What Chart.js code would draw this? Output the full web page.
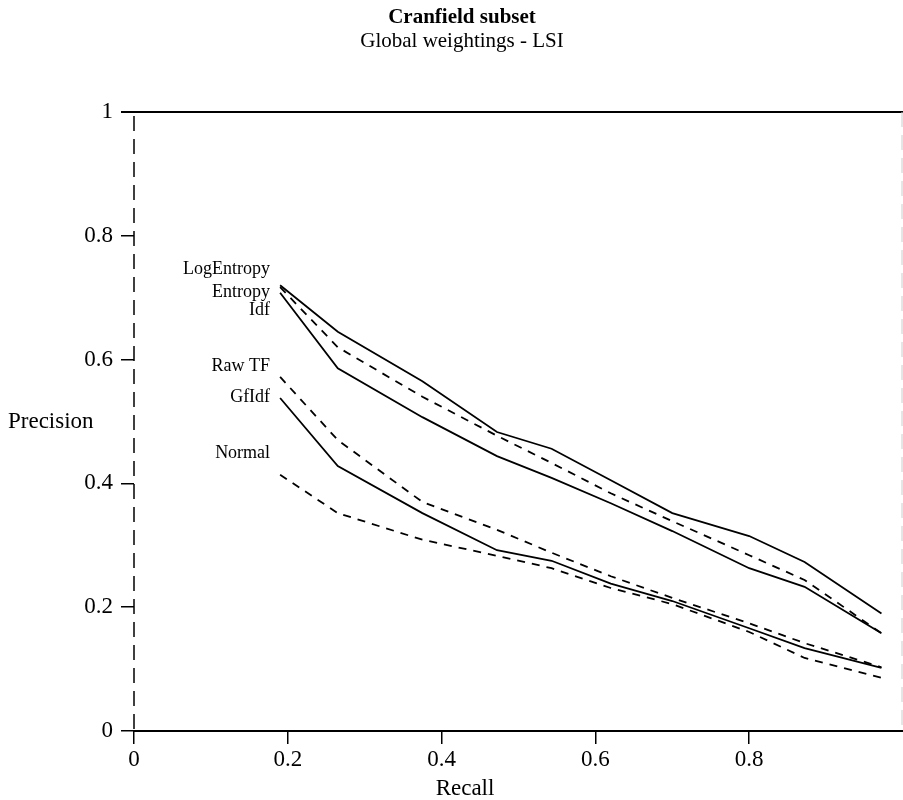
<!DOCTYPE html>
<html>
<head>
<meta charset="utf-8">
<script src="https://cdn.jsdelivr.net/npm/chart.js@4.4.0/dist/chart.umd.min.js"></script>
<style>
  html, body { margin: 0; padding: 0; background: #fff; overflow: hidden; }
  #wrap { width: 903px; height: 800px; }
</style>
</head>
<body>
<div id="wrap"><canvas id="prChart"></canvas></div>
<script>
// recall levels shared by every curve
const recall = [0.19, 0.265, 0.375, 0.472, 0.543, 0.62, 0.70, 0.80, 0.872, 0.972];

// precision per weighting
const logEntropy = [0.72, 0.645, 0.565, 0.483, 0.456, 0.405, 0.352, 0.315, 0.273, 0.19];
const entropy    = [0.717, 0.62, 0.54, 0.477, 0.433, 0.384, 0.339, 0.284, 0.244, 0.158];
const idf        = [0.708, 0.586, 0.507, 0.444, 0.409, 0.368, 0.323, 0.263, 0.233, 0.158];
const rawTf      = [0.572, 0.47, 0.37, 0.325, 0.288, 0.25, 0.215, 0.174, 0.142, 0.103];
const gfIdf      = [0.538, 0.428, 0.352, 0.292, 0.275, 0.238, 0.21, 0.166, 0.134, 0.102];
const normal     = [0.414, 0.352, 0.309, 0.283, 0.263, 0.231, 0.205, 0.16, 0.118, 0.086];

const seriesNames = ["LogEntropy", "Entropy", "Idf", "Raw TF", "GfIdf", "Normal"];
const seriesValues = [logEntropy, entropy, idf, rawTf, gfIdf, normal];
const dashed = [false, true, false, true, false, true];

const yTicks = [0, 0.2, 0.4, 0.6, 0.8, 1];
const xTicks = [0, 0.2, 0.4, 0.6, 0.8];

const chartTitle = "Cranfield subset";
const chartSubtitle = "Global weightings - LSI";

// vertical nudge of each curve label relative to its first point
const labelNudge = [-11, 10, 22, -6, 4, -17];

const serif = '"Liberation Serif", "Times New Roman", serif';

const datasets = seriesNames.map((name, i) => ({
  label: name,
  data: recall.map((r, j) => ({ x: r, y: seriesValues[i][j] })),
  borderColor: "#000",
  borderWidth: 1.8,
  borderDash: dashed[i] ? [8, 7] : [],
  pointRadius: 0,
  tension: 0,
  fill: false
}));

const annotate = {
  id: "annotate",
  afterDraw(chart) {
    const { ctx, chartArea: a, scales: { y } } = chart;
    ctx.save();
    // top frame line
    ctx.strokeStyle = "#000";
    ctx.lineWidth = 2;
    ctx.beginPath();
    ctx.moveTo(a.left - 13, a.top);
    ctx.lineTo(a.right, a.top);
    ctx.stroke();
    // dashed left axis
    ctx.lineWidth = 1.5;
    ctx.setLineDash([15, 8]);
    ctx.beginPath();
    ctx.moveTo(a.left, a.top + 4);
    ctx.lineTo(a.left, a.bottom);
    ctx.stroke();
    // faint right edge
    ctx.strokeStyle = "#ccc";
    ctx.lineWidth = 1;
    ctx.beginPath();
    ctx.moveTo(a.right - 1, a.top);
    ctx.lineTo(a.right - 1, a.bottom);
    ctx.stroke();
    ctx.setLineDash([]);

    ctx.fillStyle = "#000";
    ctx.textAlign = "center";
    ctx.textBaseline = "middle";
    ctx.font = "bold 21px " + serif;
    ctx.fillText(chartTitle, 462, 18);
    ctx.font = "21px " + serif;
    ctx.fillText(chartSubtitle, 462, 41);
    ctx.font = "23px " + serif;
    ctx.fillText("Recall", 465, 789);
    ctx.textAlign = "left";
    ctx.fillText("Precision", 8, y.getPixelForValue(0.5));

    ctx.font = "18px " + serif;
    ctx.textAlign = "right";
    ctx.textBaseline = "alphabetic";
    chart.data.datasets.forEach((ds, i) => {
      const p = chart.getDatasetMeta(i).data[0];
      ctx.fillText(ds.label, p.x - 10, p.y + labelNudge[i]);
    });
    ctx.restore();
  }
};

new Chart(document.getElementById("prChart"), {
  type: "line",
  data: { datasets },
  options: {
    responsive: true,
    maintainAspectRatio: false,
    animation: false,
    layout: { padding: { left: 83, top: 112, right: 0, bottom: 0 } },
    plugins: {
      legend: { display: false },
      tooltip: { enabled: false }
    },
    scales: {
      x: {
        type: "linear",
        min: 0,
        max: 1,
        afterFit: s => { s.height = 69; },
        afterBuildTicks: s => { s.ticks = xTicks.map(v => ({ value: v })); },
        ticks: {
          color: "#000",
          font: { family: serif, size: 23 },
          padding: 2,
          maxRotation: 0,
          callback: v => String(v)
        },
        grid: { drawOnChartArea: false, color: "#000", lineWidth: 1.5, tickLength: 13 },
        border: { color: "#000", width: 2 }
      },
      y: {
        min: 0,
        max: 1,
        afterFit: s => { s.width = 51; },
        afterBuildTicks: s => { s.ticks = yTicks.map(v => ({ value: v })); },
        ticks: {
          color: "#000",
          font: { family: serif, size: 23 },
          padding: 8,
          callback: v => String(v)
        },
        grid: { drawOnChartArea: false, color: "#000", lineWidth: 1.5, tickLength: 13 },
        border: { display: false }
      }
    }
  },
  plugins: [annotate]
});
</script>
</body>
</html>
